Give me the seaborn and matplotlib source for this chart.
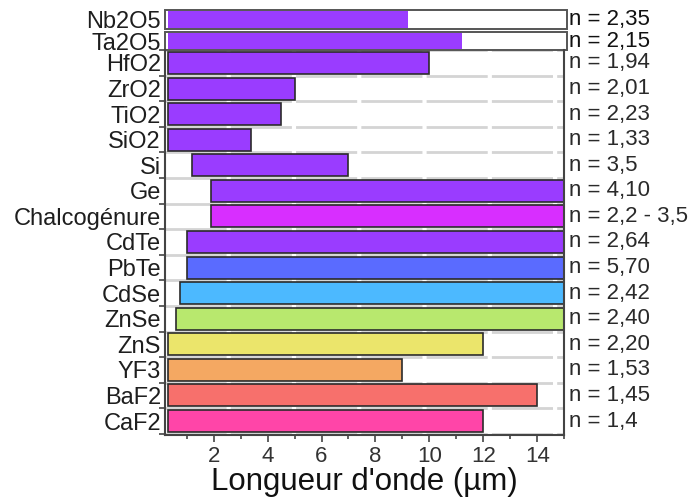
import numpy as np
import pandas as pd
import matplotlib
matplotlib.use("Agg")
import matplotlib.pyplot as plt
import matplotlib.transforms as mtransforms
from matplotlib.ticker import MultipleLocator, FixedLocator
import seaborn as sns

# ---------------- data ----------------
materials = ["Nb2O5", "Ta2O5", "HfO2", "ZrO2", "TiO2", "SiO2", "Si", "Ge",
             "Chalcogénure", "CdTe", "PbTe", "CdSe", "ZnSe", "ZnS", "YF3",
             "BaF2", "CaF2"]
start_um = [0.3, 0.3, 0.3, 0.3, 0.3, 0.3, 1.2, 1.9, 1.9, 1.0, 1.0, 0.75,
            0.6, 0.3, 0.3, 0.3, 0.3]
end_um = [9.2, 11.2, 10.0, 5.0, 4.5, 3.4, 7.0, 15.5, 15.5, 15.5, 15.5, 15.5,
          15.5, 12.0, 9.0, 14.0, 12.0]
index_labels = ["n = 2,35", "n = 2,15", "n = 1,94", "n = 2,01", "n = 2,23",
                "n = 1,33", "n = 3,5", "n = 4,10", "n = 2,2 - 3,5",
                "n = 2,64", "n = 5,70", "n = 2,42", "n = 2,40", "n = 2,20",
                "n = 1,53", "n = 1,45", "n = 1,4"]
x_ticks = [2, 4, 6, 8, 10, 12, 14]

# ---------------- layout / style ----------------
row_pos = [15.7, 14.85] + list(range(14, -1, -1))
colors = ["#9A3CFF", "#9A3CFF", "#9A3CFF", "#9A3CFF", "#9A3CFF", "#9A3CFF",
          "#9A3CFF", "#9A3CFF", "#D82EFF", "#9A3CFF", "#5A6BFF", "#4CB9FF",
          "#B8E86E", "#EBE56B", "#F4A862", "#F7706C", "#FF45A8"]
boxed = {"Nb2O5", "Ta2O5"}

sns.set_style("white")
plt.rcParams["font.family"] = ["Liberation Sans", "DejaVu Sans"]

df = pd.DataFrame({"material": materials, "end": end_um, "pos": row_pos})

fig = plt.figure(figsize=(6.88, 4.99), dpi=100)
ax = fig.add_axes([0.24, 0.128, 0.58, 0.852])

# white framed boxes behind the two top rows
for m, p in zip(materials, row_pos):
    if m in boxed:
        ax.barh(p, 15.12 - 0.2, left=0.2, height=0.72, color="white",
                edgecolor="#555555", linewidth=1.4, clip_on=False, zorder=0.8)

sns.barplot(data=df, x="end", y="pos", hue="material", orient="h",
            native_scale=True, dodge=False, legend=False,
            palette=dict(zip(materials, colors)), saturation=1,
            edgecolor="#2b2b2b", linewidth=1.2, ax=ax)

pos_arr = np.array(row_pos)
for patch in ax.patches:
    if patch.get_facecolor()[:3] == (1.0, 1.0, 1.0):
        continue
    cy = patch.get_y() + patch.get_height() / 2
    i = int(np.argmin(np.abs(pos_arr - cy)))
    m = materials[i]
    patch.set_x(start_um[i])
    patch.set_width(end_um[i] - start_um[i])
    h = 0.64 if m in boxed else 0.86
    patch.set_y(row_pos[i] - h / 2)
    patch.set_height(h)
    patch.set_zorder(2)
    if m in boxed:
        patch.set_edgecolor("none")

ax.set_xlim(0.2, 15)
ax.set_ylim(-0.55, 16.07)

# grid lines between rows
boundaries = [b - 0.5 for b in range(0, 16)]
ax.yaxis.set_minor_locator(FixedLocator(boundaries))
ax.set_yticks(row_pos)
ax.set_yticklabels(materials)
ax.grid(which="minor", axis="y", color="#d4d4d4", linewidth=2.0,
        linestyle=(0, (22, 1.5)))
ax.grid(which="major", axis="both", visible=False)
ax.set_axisbelow(True)

ax.tick_params(axis="y", which="major", length=0, pad=3, labelsize=17,
               labelcolor="#1e1e1e")
ax.tick_params(axis="y", which="minor", length=4, width=1.2, direction="out",
               color="#444444", left=True, right=False)

ax.xaxis.set_major_locator(FixedLocator(x_ticks))
ax.xaxis.set_minor_locator(MultipleLocator(1))
ax.tick_params(axis="x", which="major", length=5, width=1.2, direction="out",
               color="#444444", labelsize=16, labelcolor="#333333", pad=3,
               bottom=True)
ax.tick_params(axis="x", which="minor", length=3, width=1.2, direction="out",
               color="#444444", bottom=True)

ax.set_xlabel("Longueur d'onde (µm)", fontsize=22.5, labelpad=0, color="#111111")
ax.set_ylabel("")

for s in ["left", "right", "bottom"]:
    ax.spines[s].set_visible(True)
    ax.spines[s].set_color("#444444")
    ax.spines[s].set_linewidth(1.5)
ax.spines["top"].set_visible(False)
ax.spines["left"].set_bounds(-0.55, 14.5)
ax.spines["right"].set_bounds(-0.55, 14.5)

trans = mtransforms.blended_transform_factory(ax.transAxes, ax.transData)
for m, p, lab in zip(materials, row_pos, index_labels):
    ax.text(1.012, p, lab, transform=trans, ha="left", va="center",
            fontsize=16, color="#111111" if m in boxed else "#2a2a2a")

fig.savefig("out.png", dpi=100)
